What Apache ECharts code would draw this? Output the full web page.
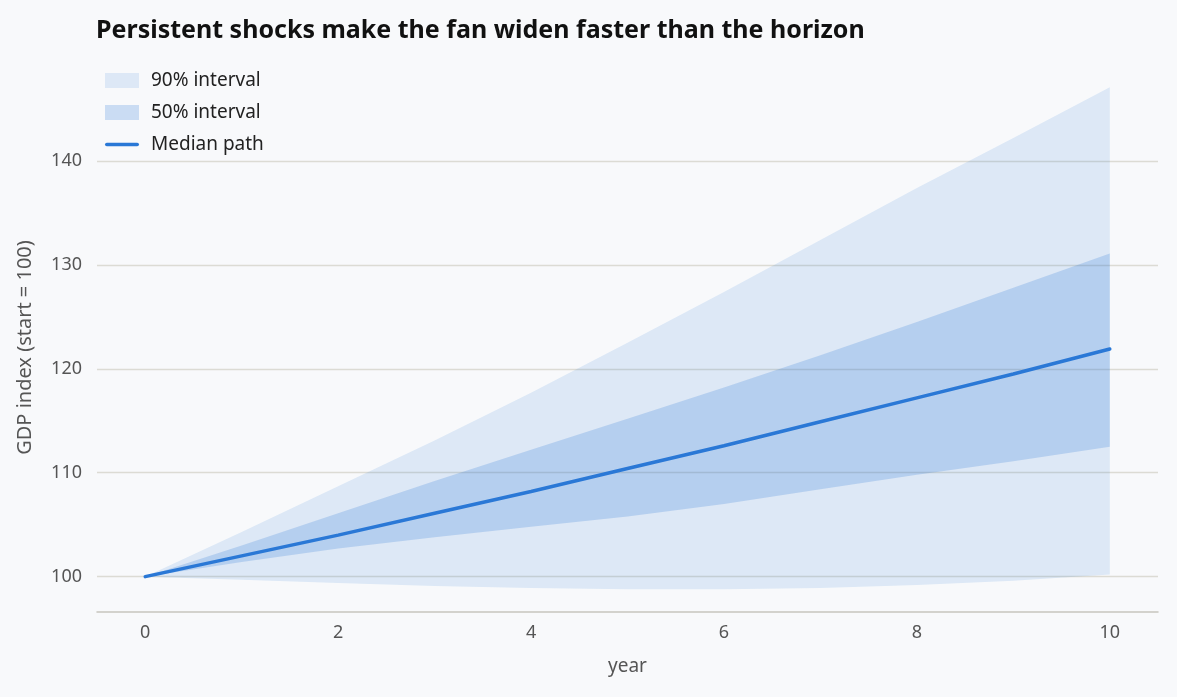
<!DOCTYPE html>
<html lang="en">
<head>
    <meta charset="UTF-8">
    <title>Fan chart</title>
    <style>
        html, body { margin: 0; padding: 0; background: #f8f9fb; }
    </style>
</head>
<body>
    <div id="app" style="width: 1177px;height:697px;"></div>
    <script src="https://cdn.jsdelivr.net/npm/echarts@6/dist/echarts.min.js"></script>
    <script>
        // values, one per year
        const years = [0, 1, 2, 3, 4, 5, 6, 7, 8, 9, 10];
        const median = [100, 102.0, 104.0, 106.1, 108.2, 110.4, 112.6, 114.9, 117.2, 119.5, 121.9];
        const lo50 = [100, 101.4, 102.7, 103.8, 104.8, 105.8, 107.0, 108.4, 109.8, 111.1, 112.5];
        const hi50 = [100, 103.0, 106.1, 109.2, 112.2, 115.2, 118.2, 121.3, 124.5, 127.8, 131.1];
        const lo90 = [100, 99.7, 99.4, 99.1, 98.9, 98.8, 98.8, 98.9, 99.2, 99.6, 100.2];
        const hi90 = [100, 104.3, 108.7, 113.1, 117.7, 122.5, 127.4, 132.4, 137.4, 142.2, 147.1];
        const xTicks = [0, 2, 4, 6, 8, 10];
        const yTicks = [100, 110, 120, 130, 140];

        const font = "'Noto Sans', 'Open Sans', sans-serif";
        const band90 = 'rgba(42,120,214,0.13)';
        const band50 = 'rgba(42,120,214,0.22)';

        // one row per year: x, lower, upper
        const bandRows = (lo, hi) => years.map((y, i) => [y, lo[i], hi[i]]);

        // polygon through the upper edge and back along the lower edge
        function bandSeries(name, lo, hi, fill) {
            const rows = bandRows(lo, hi);
            return {
                name: name,
                type: 'custom',
                data: rows,
                encode: { x: 0, y: [1, 2] },
                itemStyle: { color: fill },
                renderItem: function (params, api) {
                    if (params.dataIndex !== 0) return null;
                    const top = rows.map(r => api.coord([r[0], r[2]]));
                    const bottom = rows.slice().reverse().map(r => api.coord([r[0], r[1]]));
                    return {
                        type: 'polygon',
                        shape: { points: top.concat(bottom) },
                        style: { fill: fill }
                    };
                }
            };
        }

        const myChart = echarts.init(document.getElementById('app'));
        const options = {
            backgroundColor: '#f8f9fb',
            animation: false,
            title: {
                text: 'Persistent shocks make the fan widen faster than the horizon',
                left: 91, top: 13,
                textStyle: { fontFamily: font, fontSize: 25, fontWeight: 'bold', color: '#111' }
            },
            legend: {
                orient: 'vertical',
                left: 100, top: 66,
                itemWidth: 34, itemHeight: 15, itemGap: 13,
                textStyle: { fontFamily: font, fontSize: 19, color: '#222', padding: [0, 0, 0, 7] },
                data: [
                    { name: '90% interval', icon: 'rect' },
                    { name: '50% interval', icon: 'rect' },
                    { name: 'Median path',
                      icon: 'path://M2,0 H36 A2,2 0 0 1 36,4 H2 A2,2 0 0 1 2,0 Z' }
                ]
            },
            grid: { left: 97, right: 19, top: 83, bottom: 85 },
            xAxis: {
                type: 'value',
                min: -0.5, max: 10.5,
                name: 'year',
                nameLocation: 'middle',
                nameGap: 45,
                nameTextStyle: { fontFamily: font, fontSize: 19, color: '#555' },
                axisLine: { lineStyle: { color: '#c6c5be', width: 1.5 } },
                axisTick: { show: false, customValues: xTicks },
                axisLabel: { customValues: xTicks, fontFamily: font, fontSize: 18, color: '#555', margin: 12 },
                splitLine: { show: false }
            },
            yAxis: {
                type: 'value',
                min: 96.6, max: 147.5,
                name: 'GDP index (start = 100)',
                nameLocation: 'middle',
                nameGap: 62,
                nameTextStyle: { fontFamily: font, fontSize: 20, color: '#555' },
                axisLine: { show: false },
                axisTick: { show: false, customValues: yTicks },
                axisLabel: { customValues: yTicks, fontFamily: font, fontSize: 18, color: '#555', margin: 15 },
                splitLine: { show: true, lineStyle: { color: '#dcdbd4', width: 1.3 } }
            },
            series: [
                bandSeries('90% interval', lo90, hi90, band90),
                bandSeries('50% interval', lo50, hi50, band50),
                { name: 'Median path', type: 'line', data: years.map((y, i) => [y, median[i]]),
                  symbol: 'none', color: '#2a78d6',
                  lineStyle: { width: 3.5, color: '#2a78d6', cap: 'round' } }
            ]
        };
        myChart.setOption(options);
    </script>
</body>
</html>
